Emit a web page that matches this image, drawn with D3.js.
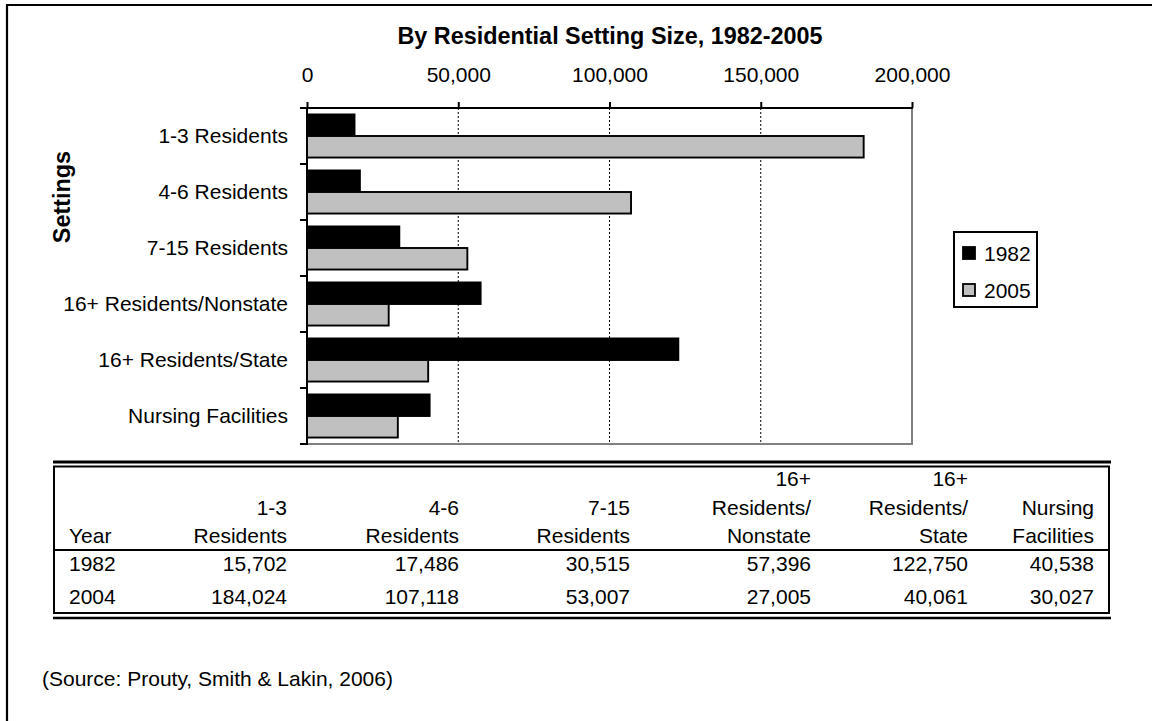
<!DOCTYPE html>
<html><head><meta charset="utf-8">
<script src="https://cdn.jsdelivr.net/npm/d3@7"></script>
<style>
html,body{margin:0;padding:0;background:#fff;}
svg{display:block;font-family:"Liberation Sans",Arial,sans-serif;}
</style></head>
<body><svg id="c" width="1152" height="721"></svg>
<script>
const categories = ["1-3 Residents","4-6 Residents","7-15 Residents","16+ Residents/Nonstate","16+ Residents/State","Nursing Facilities"];
const seriesNames = ["1982","2005"];
const values1982 = [15702,17486,30515,57396,122750,40538];
const values2005 = [184024,107118,53007,27005,40061,30027];
const xTicks = [0,50000,100000,150000,200000];
const tableColHeads = [
  ["", "", "Year"],
  ["", "1-3", "Residents"],
  ["", "4-6", "Residents"],
  ["", "7-15", "Residents"],
  ["16+", "Residents/", "Nonstate"],
  ["16+", "Residents/", "State"],
  ["", "Nursing", "Facilities"]
];
const tableYears = ["1982","2004"];
const table1982 = [15702,17486,30515,57396,122750,40538];
const table2004 = [184024,107118,53007,27005,40061,30027];
const tableRows = [table1982, table2004];
const colors = {"1982":"#000000","2005":"#C0C0C0"};

const svg = d3.select("#c");
const FS = 21;
const FF = "Liberation Sans, Arial, sans-serif";

// outer frame (top + left)
svg.append("path").attr("d","M7,721V5H1152").attr("fill","none").attr("stroke","#000").attr("stroke-width",2.2);

// title
svg.append("text").attr("x",610).attr("y",44).attr("text-anchor","middle")
  .attr("font-weight","bold").attr("font-size",23.4).text("By Residential Setting Size, 1982-2005");

const x = d3.scaleLinear().domain([0,200000]).range([307,912]);
const y = d3.scaleBand().domain(categories).range([108,444]).padding(0);
const ys = d3.scaleBand().domain(seriesNames).range([0,y.bandwidth()]).paddingInner(0).paddingOuter(0.3);

// gridlines
svg.append("g").selectAll("line").data(xTicks.filter(t=>t>0 && t<200000)).join("line")
  .attr("x1",d=>x(d)).attr("x2",d=>x(d)).attr("y1",108).attr("y2",444)
  .attr("stroke","#000").attr("stroke-width",1).attr("stroke-dasharray","2,2");

// right + bottom plot border (gray)
svg.append("path").attr("d",`M${x(200000)},108V444H307`).attr("fill","none").attr("stroke","#808080").attr("stroke-width",2);

// bars
const data = [];
categories.forEach((c,i)=>{
  data.push({cat:c,s:"1982",v:values1982[i]});
  data.push({cat:c,s:"2005",v:values2005[i]});
});
svg.append("g").selectAll("rect").data(data).join("rect")
  .attr("x",x(0)).attr("y",d=>y(d.cat)+ys(d.s))
  .attr("width",d=>x(d.v)-x(0)).attr("height",ys.bandwidth())
  .attr("fill",d=>colors[d.s]).attr("stroke","#000").attr("stroke-width",1.9);

// top axis
const xa = svg.append("g").attr("transform","translate(0,108)")
  .call(d3.axisTop(x).tickValues(xTicks).tickFormat(d3.format(",")).tickSize(6).tickPadding(20));
xa.select(".domain").remove();
xa.selectAll(".tick line").attr("stroke","#000").attr("stroke-width",2);
xa.selectAll("text").attr("font-size",FS).attr("font-family",FF).attr("fill","#000");
svg.append("line").attr("x1",306).attr("x2",x(200000)+1).attr("y1",108).attr("y2",108).attr("stroke","#000").attr("stroke-width",2);

// left axis
const ya = svg.append("g").attr("transform","translate(307,0)")
  .call(d3.axisLeft(y).tickSize(0).tickPadding(19));
ya.select(".domain").remove();
ya.selectAll("text").attr("font-size",FS).attr("font-family",FF).attr("fill","#000");
const bounds = categories.map(c=>y(c)).concat([y.range()[1]]);
svg.append("g").selectAll("line").data(bounds).join("line")
  .attr("x1",300).attr("x2",307).attr("y1",d=>d).attr("y2",d=>d).attr("stroke","#000").attr("stroke-width",2);
svg.append("line").attr("x1",307).attr("x2",307).attr("y1",107).attr("y2",445).attr("stroke","#000").attr("stroke-width",2);

// y title
svg.append("text").attr("transform","translate(70,197) rotate(-90)").attr("text-anchor","middle")
  .attr("font-weight","bold").attr("font-size",23.4).text("Settings");

// legend
const lg = svg.append("g");
lg.append("rect").attr("x",954).attr("y",232).attr("width",83).attr("height",75).attr("fill","#fff").attr("stroke","#000").attr("stroke-width",2);
seriesNames.forEach((s,i)=>{
  const cy = 253 + i*37;
  lg.append("rect").attr("x",963).attr("y",cy-6).attr("width",12).attr("height",12).attr("fill",colors[s]).attr("stroke","#000").attr("stroke-width",1.8);
  lg.append("text").attr("x",984).attr("y",cy+7.5).attr("font-size",FS).text(s);
});

// table
const colRight = [117,287,459,630,811,968,1094];
const tg = svg.append("g").attr("font-size",FS);
const hBase = [486,514.5,543];
tableColHeads.forEach((lines,ci)=>{
  lines.forEach((t,li)=>{
    if(!t) return;
    tg.append("text").attr("x",ci===0?69:colRight[ci]).attr("y",hBase[li])
      .attr("text-anchor",ci===0?"start":"end").text(t);
  });
});
const rBase = [571,604];
tableYears.forEach((yr,ri)=>{
  tg.append("text").attr("x",69).attr("y",rBase[ri]).text(yr);
  tableRows[ri].forEach((v,ci)=>{
    tg.append("text").attr("x",colRight[ci+1]).attr("y",rBase[ri]).attr("text-anchor","end").text(d3.format(",")(v));
  });
});
tg.append("line").attr("x1",53).attr("x2",1111).attr("y1",462).attr("y2",462).attr("stroke","#000").attr("stroke-width",3);
tg.append("rect").attr("x",54).attr("y",466.5).attr("width",1055).attr("height",146.5).attr("fill","none").attr("stroke","#000").attr("stroke-width",2);
tg.append("line").attr("x1",54).attr("x2",1109).attr("y1",550).attr("y2",550).attr("stroke","#000").attr("stroke-width",2);
tg.append("line").attr("x1",53).attr("x2",1111).attr("y1",618).attr("y2",618).attr("stroke","#000").attr("stroke-width",2.5);

// source
svg.append("text").attr("x",42).attr("y",686).attr("font-size",FS).text("(Source: Prouty, Smith & Lakin, 2006)");
</script></body></html>
